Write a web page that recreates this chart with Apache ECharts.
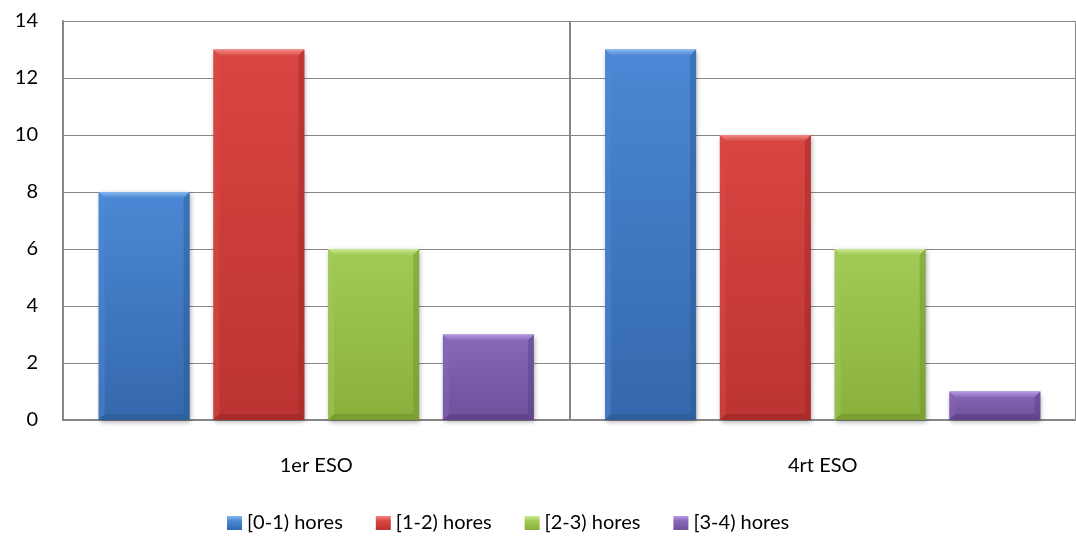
<!DOCTYPE html>
<html>
<head>
<meta charset="utf-8">
<script src="https://cdn.jsdelivr.net/npm/echarts@6/dist/echarts.min.js"></script>
<style>
  html, body { margin: 0; padding: 0; background: #ffffff; }
  #chart { width: 1076px; height: 542px; }
</style>
</head>
<body>
<div id="chart"></div>
<script>
// Hours per group of students
const categories = ['1er ESO', '4rt ESO'];
const seriesNames = ['[0-1) hores', '[1-2) hores', '[2-3) hores', '[3-4) hores'];
const hores01 = [8, 13];
const hores12 = [13, 10];
const hores23 = [6, 6];
const hores34 = [3, 1];
const seriesValues = [hores01, hores12, hores23, hores34];
const yMin = 0, yMax = 14, yStep = 2;

// Bevelled bar palette: face, light edge, dark edge
const palette = [
  { top: '#4a88d5', bottom: '#3568ac', light: '#86b6ee', dark: '#2c5893', side: '#4f8ad4' },
  { top: '#da4542', bottom: '#bb3431', light: '#f08a86', dark: '#982725', side: '#d94c49' },
  { top: '#a0cb54', bottom: '#8ab03c', light: '#cbe995', dark: '#6f902b', side: '#a1cb58' },
  { top: '#8868b8', bottom: '#6e509b', light: '#b69ae2', dark: '#563d80', side: '#8869b8' }
];

const BAR_RATIO = 92 / 512;   // bar width as share of the category band
const GAP_RATIO = 24 / 512;   // gap between bars in a group
const BEVEL = 6;

function makeRenderer(idx) {
  const c = palette[idx];
  return function (params, api) {
    const cat = api.value(0);
    const val = api.value(1);
    const topPt = api.coord([cat, val]);
    const basePt = api.coord([cat, 0]);
    const band = api.size([1, 0])[0];
    const w = band * BAR_RATIO;
    const g = band * GAP_RATIO;
    const cx = topPt[0] + (idx - 1.5) * (w + g);
    const x0 = cx - w / 2, x1 = cx + w / 2;
    const y0 = topPt[1], y1 = basePt[1];
    const h = y1 - y0;
    const b = Math.min(BEVEL, h / 2, w / 2);
    const face = new echarts.graphic.LinearGradient(0, 0, 0, 1, [
      { offset: 0, color: c.top }, { offset: 1, color: c.bottom }
    ]);
    return {
      type: 'group',
      children: [
        {
          type: 'rect',
          shape: { x: x0, y: y0, width: w, height: h },
          style: {
            fill: face,
            shadowBlur: 5, shadowOffsetX: 1, shadowOffsetY: 2,
            shadowColor: 'rgba(0,0,0,0.35)'
          }
        },
        {
          type: 'polygon',
          shape: { points: [[x0, y0], [x1, y0], [x1 - b, y0 + b], [x0 + b, y0 + b]] },
          style: { fill: new echarts.graphic.LinearGradient(0, 0, 0, 1, [
            { offset: 0, color: c.light }, { offset: 1, color: c.side }
          ]) }
        },
        {
          type: 'polygon',
          shape: { points: [[x0, y0], [x0 + b, y0 + b], [x0 + b, y1 - b], [x0, y1]] },
          style: { fill: c.side, opacity: 0.45 }
        },
        {
          type: 'polygon',
          shape: { points: [[x1, y0], [x1, y1], [x1 - b, y1 - b], [x1 - b, y0 + b]] },
          style: { fill: c.dark, opacity: 0.45 }
        },
        {
          type: 'polygon',
          shape: { points: [[x0, y1], [x0 + b, y1 - b], [x1 - b, y1 - b], [x1, y1]] },
          style: { fill: c.dark, opacity: 0.6 }
        }
      ]
    };
  };
}

const series = seriesNames.map(function (name, i) {
  return {
    name: name,
    type: 'custom',
    renderItem: makeRenderer(i),
    itemStyle: { color: new echarts.graphic.LinearGradient(0, 0, 0, 1, [
      { offset: 0, color: palette[i].light }, { offset: 0.35, color: palette[i].top },
      { offset: 1, color: palette[i].bottom }
    ]) },
    encode: { x: 0, y: 1 },
    data: seriesValues[i].map(function (v, k) { return [k, v]; })
  };
});

const chart = echarts.init(document.getElementById('chart'), null, { renderer: 'canvas' });
const FONT = 'Lato, "Open Sans", sans-serif';
chart.setOption({
  animation: false,
  backgroundColor: '#ffffff',
  grid: { left: 63, top: 21, right: -11, bottom: 122, containLabel: false },
  xAxis: {
    type: 'category',
    data: categories,
    axisLine: { show: true, lineStyle: { color: '#868686', width: 2 } },
    axisTick: { show: false },
    splitLine: { show: true, lineStyle: { color: '#868686', width: 2 } },
    axisLabel: { color: '#000', fontFamily: FONT, fontSize: 20, margin: 36 }
  },
  yAxis: {
    type: 'value',
    min: yMin, max: yMax, interval: yStep,
    axisLine: { show: true, lineStyle: { color: '#868686', width: 2 } },
    axisTick: { show: false },
    splitLine: { show: true, lineStyle: { color: '#868686', width: 1 } },
    axisLabel: { color: '#000', fontFamily: FONT, fontSize: 20, margin: 25 }
  },
  legend: {
    top: 508,
    left: 222,
    icon: 'rect',
    itemWidth: 15, itemHeight: 14,
    itemGap: 33,
    textStyle: { color: '#000', fontFamily: FONT, fontSize: 20 },
    data: seriesNames
  },
  series: series
});
</script>
</body>
</html>
